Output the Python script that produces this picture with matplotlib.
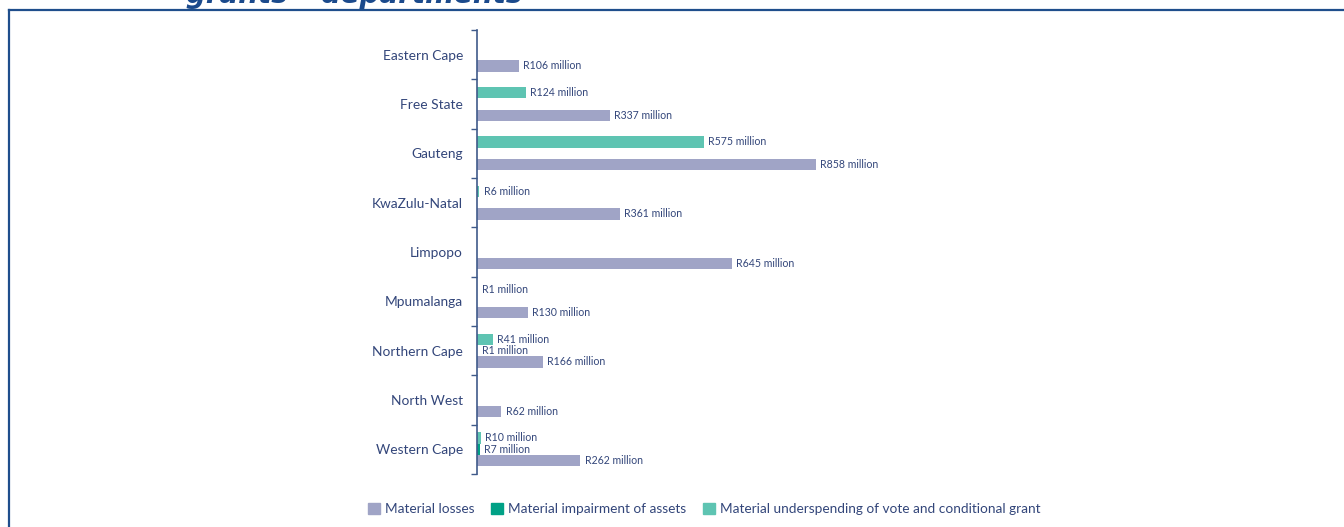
import matplotlib
matplotlib.use("Agg")
import matplotlib.pyplot as plt
from matplotlib.lines import Line2D
from matplotlib.patches import Patch
import numpy as np

plt.rcParams['font.family'] = ['Lato', 'DejaVu Sans']

provinces = ["Eastern Cape", "Free State", "Gauteng", "KwaZulu-Natal", "Limpopo",
             "Mpumalanga", "Northern Cape", "North West", "Western Cape"]
# R million, None where nothing was reported
losses = [106, 337, 858, 361, 645, 130, 166, 62, 262]
impairment = [None, None, None, None, None, None, 1, None, 7]
underspending = [None, 124, 575, 6, None, 1, 41, None, 10]

c_losses = "#a0a4c6"
c_impair = "#00a186"
c_under = "#5ec4b2"
navy = "#33467a"
frame_blue = "#1f4e8c"

fig = plt.figure(figsize=(13.44, 5.27), dpi=100)
ax = fig.add_axes([0.3549, 0.1006, 0.61, 0.8425])

idx = np.arange(len(provinces))
h = 0.235
series = [(underspending, -0.23, c_under),
          (impairment, 0.0, c_impair),
          (losses, 0.23, c_losses)]

for vals, off, col in series:
    for i, v in enumerate(vals):
        if v is None:
            continue
        ax.barh(i + off, v, height=h, color=col)
        ax.annotate(f"R{v} million", (v, i + off), xytext=(3, 0),
                    textcoords="offset points", va="center", ha="left",
                    fontsize=7.6, color=navy)

ax.set_xlim(0, 2076)
ax.set_ylim(len(provinces) - 0.5, -0.5)

ax.set_yticks(idx)
ax.set_yticklabels(provinces, fontsize=9.9, color=navy)
ax.set_yticks(np.arange(-0.5, len(provinces)), minor=True)
ax.tick_params(axis="y", which="major", length=0, pad=10)
ax.tick_params(axis="y", which="minor", length=4, width=1, color="#3f5a8a")
ax.set_xticks([])
for s in ["top", "right", "bottom"]:
    ax.spines[s].set_visible(False)
ax.spines["left"].set_color("#3f5a8a")
ax.spines["left"].set_linewidth(1.2)

# page frame and heading above the chart
fig.add_artist(Line2D([9 / 1344, 1], [1 - 10 / 527, 1 - 10 / 527],
                      transform=fig.transFigure, color=frame_blue, lw=1.6))
fig.add_artist(Line2D([9 / 1344, 9 / 1344], [0, 1 - 10 / 527],
                      transform=fig.transFigure, color=frame_blue, lw=1.6))
fig.text(186 / 1344, 1 - 3 / 527, "grants \u2013 departments", fontsize=20,
         fontweight="bold", fontstyle="italic", color="#1b4a8c",
         ha="left", va="baseline", family=["DejaVu Sans"])

handles = [Patch(color=c_losses), Patch(color=c_impair), Patch(color=c_under)]
labels = ["Material losses", "Material impairment of assets",
          "Material underspending of vote and conditional grant"]
leg = fig.legend(handles, labels, loc="center", bbox_to_anchor=(0.524, 0.034),
                 ncol=3, frameon=False, fontsize=9.8, handlelength=0.88,
                 handleheight=0.88, handletextpad=0.37, columnspacing=1.2)
for t in leg.get_texts():
    t.set_color(navy)

fig.savefig("out.png", dpi=100)
